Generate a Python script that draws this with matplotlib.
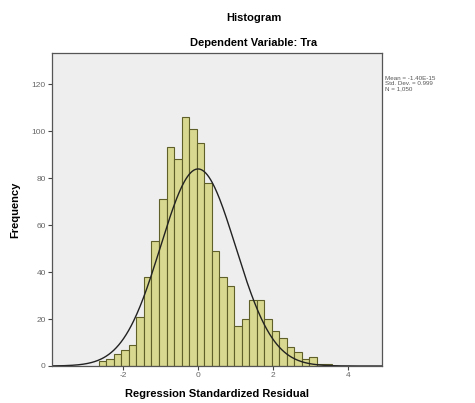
import numpy as np
import matplotlib
matplotlib.use('Agg')
import matplotlib.pyplot as plt

plt.rcParams['font.family'] = ['Liberation Sans', 'DejaVu Sans']
plt.rcParams['axes.unicode_minus'] = False

# histogram of regression standardized residuals (SPSS output)
bin_start = -2.64
bin_width = 0.2
counts = [2, 3, 5, 7, 9, 21, 38, 53, 71, 93, 88, 106, 101, 95, 78, 49,
          38, 34, 17, 20, 28, 28, 20, 15, 12, 8, 6, 3, 4, 1, 1]
bin_left = np.round(bin_start + bin_width * np.arange(len(counts)), 3)

res_mean = -1.40e-15
res_sd = 0.999
res_n = 1050

x_ticks = [-2, 0, 2, 4]
y_ticks = [0, 20, 40, 60, 80, 100, 120]

fig = plt.figure(figsize=(4.75, 4.03), dpi=100)
ax = fig.add_axes([52 / 475, 1 - 366 / 403, 330 / 475, 313 / 403])
ax.set_facecolor('#eeeeee')

ax.bar(bin_left, counts, width=bin_width, align='edge',
       color='#d8d890', edgecolor='#5f5f2a', linewidth=0.8)

# fitted normal curve
xs = np.linspace(-3.9, 4.9, 400)
ys = res_n * bin_width / (res_sd * np.sqrt(2 * np.pi)) * \
    np.exp(-0.5 * ((xs - res_mean) / res_sd) ** 2)
ax.plot(xs, ys, color='#222222', linewidth=1.0)

ax.set_xlim(-3.89, 4.9)
ax.set_ylim(0, 133.2)
ax.set_xticks(x_ticks)
ax.set_yticks(y_ticks)
ax.tick_params(labelsize=6, labelcolor='#666666', length=3,
               width=0.8, color='#444444', pad=1.5)
for s in ax.spines.values():
    s.set_color('#555555')
    s.set_linewidth(0.9)

ax.set_xlabel('Regression Standardized Residual', fontsize=8,
              fontweight='bold', labelpad=7)
ax.set_ylabel('Frequency', fontsize=8, fontweight='bold', labelpad=8)

fig.text(254 / 475, 1 - 18 / 403, 'Histogram', ha='center', va='center',
         fontsize=8, fontweight='bold')
fig.text(254 / 475, 1 - 43 / 403, 'Dependent Variable: Tra', ha='center',
         va='center', fontsize=8, fontweight='bold')

fig.text(385 / 475, 1 - 76 / 403,
         'Mean = -1.40E-15\nStd. Dev. = 0.999\nN = 1,050',
         ha='left', va='top', fontsize=4.5, color='#555555',
         linespacing=1.0)

fig.savefig('out.png', dpi=100)
